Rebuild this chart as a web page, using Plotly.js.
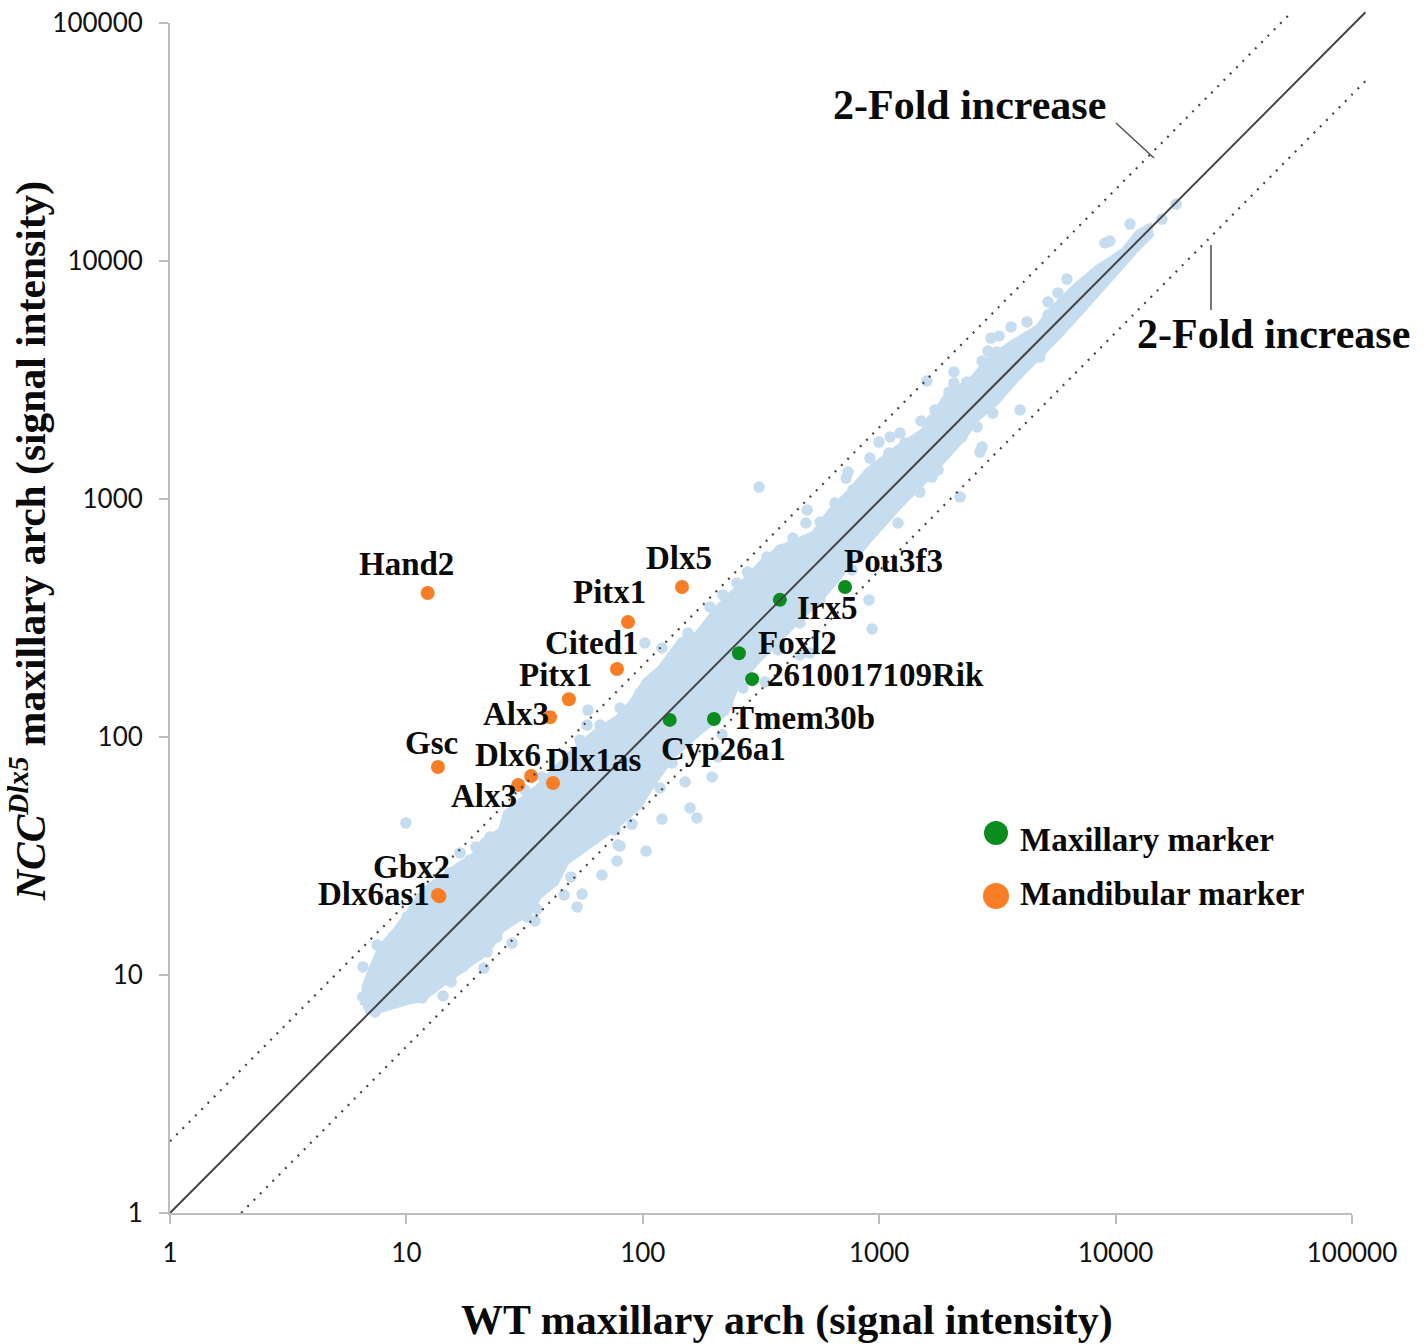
<!DOCTYPE html>
<html>
<head>
<meta charset="utf-8">
<script src="https://cdn.plot.ly/plotly-3.0.1.min.js"></script>
<style>html,body{margin:0;padding:0;background:#fff}#chart{width:1426px;height:1344px}</style>
</head>
<body>
<div id="chart"></div>
<script>
// ---- Values ----
// Outline of the dense cloud of probes, log10(signal): WT (x) and NCC-Dlx5 (y)
const cloudOutlineLogWT = [.812,.821,.854,.888,.939,1.003,1.070,1.142,1.214,1.282,1.324,1.396,1.417,1.481,1.552,1.620,1.705,1.789,1.891,1.946,2.009,2.073,2.157,2.229,2.314,2.441,2.508,2.580,2.720,2.792,2.876,2.948,3.075,3.185,3.287,3.384,3.456,3.553,3.667,3.722,3.820,3.921,4.031,4.091,4.145,4.154,4.091,4.006,3.904,3.778,3.680,3.583,3.498,3.414,3.354,3.202,3.088,2.974,2.779,2.665,2.483,2.398,2.356,2.242,2.128,2.030,1.988,1.874,1.777,1.679,1.637,1.565,1.523,1.409,1.341,1.239,1.142,1.070,1.003,.876,.825];
const cloudOutlineLogKO = [.874,.958,1.042,1.118,1.176,1.261,1.357,1.412,1.462,1.504,1.567,1.609,1.681,1.735,1.790,1.861,1.945,2.017,2.084,2.143,2.239,2.294,2.408,2.437,2.546,2.672,2.744,2.798,2.857,2.954,3.038,3.122,3.218,3.290,3.445,3.500,3.584,3.655,3.723,3.794,3.891,3.975,4.046,4.122,4.151,4.109,4.046,3.950,3.836,3.697,3.597,3.500,3.403,3.332,3.248,3.080,2.966,2.840,2.605,2.492,2.311,2.210,2.101,2.017,1.916,1.777,1.706,1.609,1.538,1.471,1.387,1.328,1.261,1.189,1.092,1.021,.950,.895,.882,.845,.845];
// Separate probes outside or on the edge of the dense cloud, log10(signal)
const probeLogWT = [.998,2.492,3.596,2.970,2.957,4.061,4.256,4.196,3.955,3.976,3.794,3.756,3.714,3.625,3.558,3.507,3.473,3.435,3.316,3.435,3.426,3.342,3.079,3.177,3.236,2.999,3.046,3.088,2.961,2.868,2.860,2.695,2.690,2.580,2.284,2.009,2.081,2.293,2.179,2.200,2.229,2.081,2.014,1.891,1.904,1.827,1.743,1.722,1.667,1.696,1.544,1.447,1.328,1.189,1.155,.816,.816,.876,1.227,1.294,1.502,1.574,1.768,1.764,1.954,2.073,2.707,2.572,2.665,2.517,2.424,2.124,2.360,2.318,2.335,
  .867,.943,1.003,1.552,1.066,.943,1.239,1.341,1.383,1.510,.859,.838,1.184,1.354,1.269,
  1.904,1.988,2.018,2.085,2.157,1.819,1.734,2.018,2.001,1.891,1.882,1.895,1.789,1.954,
  2.443,2.525,2.339,2.398,2.191,2.250,2.813,2.889,2.969,2.750,2.635,2.885,2.792,2.750,2.665,
  3.202,3.460,3.498,3.714,3.041,3.295,3.316,3.371,3.109,3.223,3.481,3.414,3.350,3.249,3.223,3.172,3.680];
const probeLogKO = [1.639,3.050,3.374,2.454,2.576,4.155,4.239,4.176,4.076,4.084,3.924,3.866,3.828,3.744,3.723,3.685,3.676,3.580,3.534,3.218,3.197,3.008,2.899,3.328,3.374,3.239,3.261,3.277,3.172,3.113,3.088,2.954,2.899,2.786,2.546,2.395,2.374,1.832,1.811,1.702,1.660,1.655,1.521,1.479,1.542,1.420,1.340,1.286,1.336,1.412,1.227,1.134,1.029,.971,.912,.908,1.034,1.126,1.513,1.538,1.777,1.832,2.113,2.050,1.634,1.786,2.353,2.366,2.345,2.231,2.206,1.891,2.134,1.916,2.011,
  .845,1.160,1.244,1.277,.903,.882,1.034,1.097,1.160,1.244,.992,.882,1.429,1.580,1.483,
  2.122,2.185,2.227,2.282,2.345,2.050,1.987,1.811,1.777,1.693,1.609,1.546,1.580,1.702,
  2.693,2.756,2.597,2.647,2.437,2.437,2.983,3.038,3.092,2.903,2.836,2.702,2.660,2.576,2.479,
  3.496,3.622,3.618,3.773,3.193,3.450,3.487,3.492,3.235,3.332,3.361,3.303,3.261,3.122,3.092,3.029,3.597];

// Mandibular markers
const mandibularGenes = ["Hand2","Dlx5","Pitx1","Cited1","Pitx1","Alx3","Gsc","Dlx6","Alx3","Dlx1as","Dlx6as1","Gbx2"];
const mandibularWT = [12.3,146.5,86.6,77.8,48.7,40.5,13.6,33.7,29.7,41.7,13.6,13.8];
const mandibularKO = [403,427,304,193,144,121,74.8,68.6,62.9,64.1,21.7,21.4];

// Maxillary markers
const maxillaryGenes = ["Pou3f3","Irx5","Foxl2","2610017109Rik","Tmem30b","Cyp26a1"];
const maxillaryWT = [717,380,255,290,200,130];
const maxillaryKO = [427,377,225,175,119,118];

// Reference lines
const identityX = [1,114000];
const identityY = [1,111000];
const upperFoldX = [1,55700];
const upperFoldY = [2,111400];
const lowerFoldX = [2,114000];
const lowerFoldY = [1,57000];

const tickValues = [1,10,100,1000,10000,100000];
const tickLabels = ["1","10","100","1000","10000","100000"];
const xTitle = "WT maxillary arch (signal intensity)";
const yTitle = "<i>NCC<sup>Dlx5</sup></i> maxillary arch (signal intensity)";
const foldLabel = "2-Fold increase";
const legendLabels = ["Maxillary marker","Mandibular marker"];

// ---- Layout of the page, in screen pixels ----
const W = 1426, H = 1344, L = 170, R = 1352, T = 23, B = 1213;
const OUTER_R = 1372, OUTER_T = 8;             // reference lines run a little past the axes
const fx = p => (p - L) / (OUTER_R - L);
const fy = p => (B - p) / (B - OUTER_T);
const SERIF = '"Liberation Serif","Times New Roman",serif';
const INK = '#0a0a0a';
const CLOUD = '#c6dcef', GREEN = '#0a8c1e', ORANGE = '#f97d24', LINE = '#444444', AXIS = '#bdbdbd';

const geneLabelAt = {
  mandibular: [[406,564],[679,558],[609,592],[592,643],[555,675],[516,714],[431,743],[508,755],[484,796],[594,760],[374,894],[411,867]],
  maxillary:  [[893,561],[827,608],[797,643],[875,675],[803,718],[723,749]]
};

function label(text, px, py, size, angle) {
  return {xref:'paper', yref:'paper', x:fx(px), y:fy(py), xanchor:'center', yanchor:'middle', textangle:angle||0,
          showarrow:false, text:text, font:{family:SERIF, size:size, color:INK, weight:'bold'}};
}
const annotations = [];
mandibularGenes.forEach((g,i) => annotations.push(label(g, geneLabelAt.mandibular[i][0], geneLabelAt.mandibular[i][1], 33)));
maxillaryGenes.forEach((g,i) => annotations.push(label(g, geneLabelAt.maxillary[i][0], geneLabelAt.maxillary[i][1], 33)));
annotations.push(label(foldLabel, 969, 105, 42));
annotations.push(label(foldLabel, 1273, 334, 42));
annotations.push(label(legendLabels[0], 1147, 840, 33));
annotations.push(label(legendLabels[1], 1162, 894, 33));
annotations.push(label(xTitle, 787, 1321, 42));
annotations.push(label(yTitle, 28, 541, 41.5, -90));

function dot(cx, cy, r, color) {
  return {type:'circle', xref:'paper', yref:'paper', x0:fx(cx-r), x1:fx(cx+r), y0:fy(cy+r), y1:fy(cy-r),
          fillcolor:color, line:{width:0}};
}
function leader(x0,y0,x1,y1) {
  return {type:'line', xref:'paper', yref:'paper', x0:fx(x0), x1:fx(x1), y0:fy(y0), y1:fy(y1), line:{color:'#555555', width:1.6}};
}
const shapes = [dot(996,833,12,GREEN), dot(996,896,13,ORANGE), leader(1116,123,1154,158), leader(1211,245,1211,310)];

const pow10 = a => a.map(v => Math.pow(10, v));
const common = {type:'scatter', cliponaxis:false, hoverinfo:'skip', showlegend:false};
const traces = [
  Object.assign({}, common, {name:'Probes (dense)', mode:'lines', x:pow10(cloudOutlineLogWT), y:pow10(cloudOutlineLogKO),
     fill:'toself', fillcolor:CLOUD, line:{color:CLOUD, width:4}}),
  Object.assign({}, common, {name:'Probes', mode:'markers', x:pow10(probeLogWT), y:pow10(probeLogKO),
     marker:{color:CLOUD, size:11.5, line:{width:0}}}),
  Object.assign({}, common, {name:'Mandibular marker', mode:'markers', x:mandibularWT, y:mandibularKO, text:mandibularGenes,
     marker:{color:ORANGE, size:14, line:{width:0}}}),
  Object.assign({}, common, {name:'Maxillary marker', mode:'markers', x:maxillaryWT, y:maxillaryKO, text:maxillaryGenes,
     marker:{color:GREEN, size:14, line:{width:0}}}),
  Object.assign({}, common, {name:'Equal', mode:'lines', xaxis:'x2', yaxis:'y2', x:identityX, y:identityY, line:{color:LINE, width:2}}),
  Object.assign({}, common, {name:'2-fold up', mode:'lines', xaxis:'x2', yaxis:'y2', x:upperFoldX, y:upperFoldY, line:{color:LINE, width:2.2, dash:'2px,6.9px'}}),
  Object.assign({}, common, {name:'2-fold down', mode:'lines', xaxis:'x2', yaxis:'y2', x:lowerFoldX, y:lowerFoldY, line:{color:LINE, width:2.2, dash:'2px,6.9px'}})
];

const axisBase = {type:'log', range:[0,5], tickmode:'array', tickvals:tickValues, ticktext:tickLabels,
  showgrid:false, zeroline:false, showline:true, linecolor:AXIS, linewidth:2,
  ticks:'outside', ticklen:9, tickwidth:2, tickcolor:AXIS,
  tickfont:{family:'Lato, sans-serif', size:26, color:'#111111'}, automargin:false};

const layout = {
  width:W, height:H, margin:{l:L, r:W-OUTER_R, t:OUTER_T, b:H-B, pad:0},
  paper_bgcolor:'#ffffff', plot_bgcolor:'rgba(0,0,0,0)', showlegend:false,
  xaxis:Object.assign({}, axisBase, {domain:[0,fx(R)], anchor:'y', ticklabelstandoff:7}),
  yaxis:Object.assign({}, axisBase, {domain:[0,fy(T)], anchor:'x', ticklabelstandoff:11}),
  xaxis2:{type:'log', domain:[0,1], anchor:'y2', range:[0,(OUTER_R-L)/((R-L)/5)], visible:false},
  yaxis2:{type:'log', domain:[0,1], anchor:'x2', range:[0,(B-OUTER_T)/((B-T)/5)], visible:false},
  annotations:annotations, shapes:shapes
};
Plotly.newPlot('chart', traces, layout, {displayModeBar:false, staticPlot:true});
</script>
</body>
</html>
